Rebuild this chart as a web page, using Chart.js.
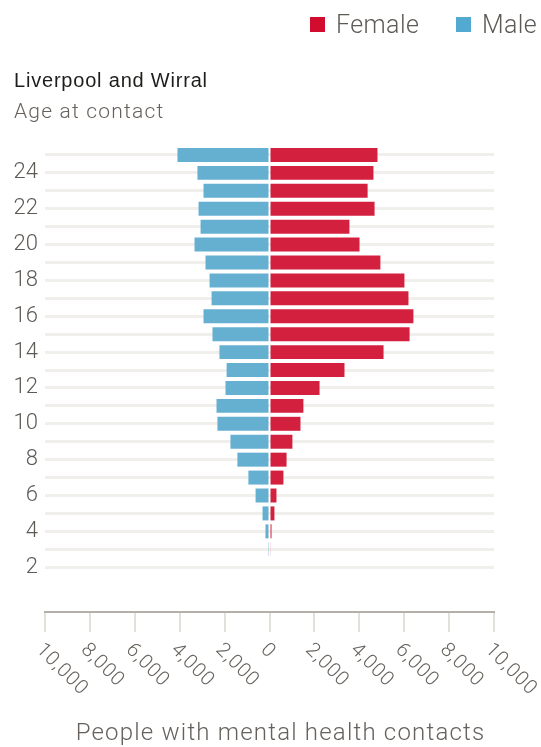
<!DOCTYPE html>
<html>
<head>
<meta charset="utf-8">
<script src="https://cdn.jsdelivr.net/npm/chart.js@4.4.1/dist/chart.umd.min.js"></script>
<style>
  body { margin: 0; background: #fff; overflow: hidden; }
  #page { position: relative; width: 541px; height: 747px; font-family: Roboto, "Liberation Sans", sans-serif; }
  #chartBox { position: absolute; left: 0; top: 0; width: 541px; height: 747px; }
  .legend { position: absolute; top: 10px; font-size: 25px; font-weight: 300; color: #5d5955; line-height: 30px; letter-spacing: 0.4px; }
  .legend i { position: absolute; top: 7px; width: 15px; height: 15px; }
  .legend span { position: absolute; white-space: nowrap; }
  #title { position: absolute; left: 14px; top: 69px; font-size: 20px; color: #1d1d1b; font-family: "Liberation Sans", sans-serif; letter-spacing: 0.8px; }
  #subtitle { position: absolute; left: 14px; top: 99px; font-size: 21px; font-weight: 300; color: #66615c; letter-spacing: 1.2px; }
  #xtitle { position: absolute; left: 10px; width: 541px; text-align: center; top: 718px; font-size: 24px; font-weight: 300; color: #66615c; letter-spacing: 1.2px; }
</style>
</head>
<body>
<div id="page">
  <div id="chartBox"><canvas id="pyramid"></canvas></div>
  <div class="legend" style="left:310px">
    <i style="left:0;background:#d10c2f"></i><span style="left:26px">Female</span>
  </div>
  <div class="legend" style="left:456px">
    <i style="left:0;background:#54a9d0"></i><span style="left:26px">Male</span>
  </div>
  <div id="title">Liverpool and Wirral</div>
  <div id="subtitle">Age at contact</div>
  <div id="xtitle">People with mental health contacts</div>
</div>
<script>
// Ages, top row first
const ages = [25, 24, 23, 22, 21, 20, 19, 18, 17, 16, 15, 14, 13, 12, 11, 10, 9, 8, 7, 6, 5, 4, 3, 2, 1, 0];

// People with mental health contacts
const female = [4810, 4630, 4370, 4680, 3560, 4010, 4940, 6010, 6190, 6410, 6240, 5080, 3340,
                2230, 1510, 1380, 1020, 760, 620, 310, 220, 90, 50, 0, 0, 0];
const male = [4100, 3210, 2940, 3160, 3070, 3340, 2850, 2670, 2580, 2940, 2540, 2230, 1910,
              1960, 2360, 2320, 1740, 1430, 940, 620, 310, 180, 60, 0, 0, 0];

// x axis ticks
const xTicks = [-10000, -8000, -6000, -4000, -2000, 0, 2000, 4000, 6000, 8000, 10000];

const labelFont = "300 20px Roboto, 'Liberation Sans', sans-serif";

// Tick labels on the x axis run downwards to the right
const slantedTicks = {
  id: "slantedTicks",
  afterDraw(chart) {
    const s = chart.scales.x;
    const ctx = chart.ctx;
    ctx.save();
    ctx.font = labelFont;
    ctx.letterSpacing = "0.8px";
    ctx.fillStyle = "#66615c";
    ctx.textAlign = "left";
    ctx.textBaseline = "middle";
    xTicks.forEach((v) => {
      const px = s.getPixelForValue(v);
      ctx.save();
      ctx.translate(px - 6, s.top + 35);
      ctx.rotate(Math.PI / 4);
      ctx.fillText(Math.abs(v).toLocaleString("en-GB"), 0, 0);
      ctx.restore();
    });
    ctx.restore();
  },
};

var ctx = document.getElementById("pyramid");
var pyramid = new Chart(ctx, {
  type: "bar",
  data: {
    labels: ages,
    datasets: [
      {
        label: "Female",
        data: female,
        backgroundColor: "#d3203f",
      },
      {
        label: "Male",
        data: male.map((v) => -v),
        backgroundColor: "#65b0d1",
      },
    ],
  },
  options: {
    indexAxis: "y",
    responsive: true,
    maintainAspectRatio: false,
    animation: false,
    barPercentage: 0.78,
    categoryPercentage: 1,
    layout: {
      padding: { top: 146, right: 47, left: 0, bottom: 0 },
    },
    plugins: {
      legend: { display: false },
      tooltip: { enabled: false },
      title: { display: false },
    },
    scales: {
      x: {
        stacked: true,
        min: -10000,
        max: 10000,
        afterBuildTicks: (scale) => {
          scale.ticks = xTicks.map((v) => ({ value: v }));
        },
        afterFit: (scale) => {
          scale.height = 135;
        },
        ticks: { display: false },
        border: { display: true, color: "#b3b0aa", width: 2 },
        grid: {
          drawOnChartArea: false,
          drawTicks: true,
          tickLength: 20,
          color: "#e3e1dc",
          lineWidth: 2,
        },
      },
      y: {
        stacked: true,
        afterFit: (scale) => {
          scale.width = 45;
        },
        border: { display: false },
        grid: {
          offset: false,
          drawTicks: false,
          lineWidth: 3,
          color: (c) => (ages[c.index] >= 2 ? "#f0efeb" : "rgba(0,0,0,0)"),
        },
        ticks: {
          autoSkip: false,
          padding: 7,
          color: "#5e5a56",
          font: { family: "Roboto, 'Liberation Sans', sans-serif", size: 22, weight: "300" },
          callback: function (value, index) {
            const a = ages[index];
            return a >= 2 && a % 2 === 0 ? String(a) : "";
          },
        },
      },
    },
  },
  plugins: [slantedTicks],
});
</script>
</body>
</html>
